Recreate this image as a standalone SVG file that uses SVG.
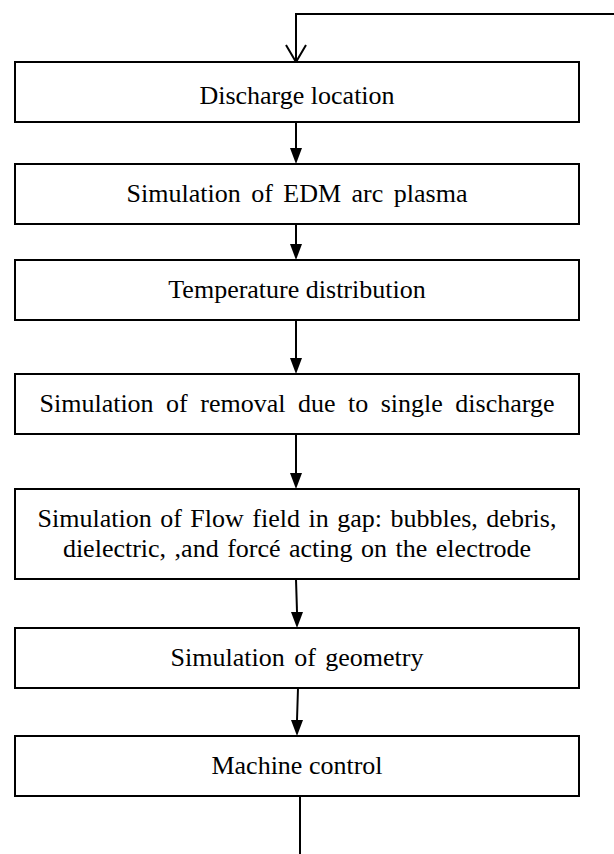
<svg xmlns="http://www.w3.org/2000/svg" width="614" height="854" viewBox="0 0 614 854">
<style>
.box{fill:#fff;stroke:#000;stroke-width:2}
.t{font-family:"Liberation Serif","Times New Roman",serif;font-size:26px;fill:#000;text-anchor:middle}
.c{fill:none;stroke:#000;stroke-width:2}
</style>
<rect width="614" height="854" fill="#fff"/>
<g id="connectors">
<path class="c" d="M614,14 H296 V62"/>
<path class="c" d="M286,45 L296,62 L306,45"/>
<line class="c" x1="296" y1="122" x2="296" y2="148"/>
<path d="M290,148 L302,148 L296,164 Z"/>
<line class="c" x1="296" y1="224" x2="296" y2="244"/>
<path d="M290,244 L302,244 L296,260 Z"/>
<line class="c" x1="296" y1="320" x2="296" y2="358"/>
<path d="M290,358 L302,358 L296,374 Z"/>
<line class="c" x1="296" y1="434" x2="296" y2="473"/>
<path d="M290,473 L302,473 L296,489 Z"/>
<line class="c" x1="296" y1="579" x2="297" y2="612"/>
<path d="M291,612 L303,612 L297,628 Z"/>
<line class="c" x1="298" y1="688" x2="297" y2="720"/>
<path d="M291,720 L303,720 L297,736 Z"/>
<line class="c" x1="300" y1="796" x2="300" y2="854"/>
</g>
<g id="n1"><rect class="box" x="15" y="62" width="564" height="60"/><text class="t" x="297" y="104">Discharge location</text></g>
<g id="n2"><rect class="box" x="15" y="164" width="564" height="60"/><text class="t" x="297" y="202" word-spacing="4">Simulation of EDM arc plasma</text></g>
<g id="n3"><rect class="box" x="15" y="260" width="564" height="60"/><text class="t" x="297" y="298">Temperature distribution</text></g>
<g id="n4"><rect class="box" x="15" y="374" width="564" height="60"/><text class="t" x="297" y="412" word-spacing="6">Simulation of removal due to single discharge</text></g>
<g id="n5"><rect class="box" x="15" y="489" width="564" height="90"/><text class="t" x="297" y="527" word-spacing="2">Simulation of Flow field in gap: bubbles, debris,</text><text class="t" x="297" y="557" word-spacing="2">dielectric, ,and forcé acting on the electrode</text></g>
<g id="n6"><rect class="box" x="15" y="628" width="564" height="60"/><text class="t" x="297" y="666" word-spacing="3">Simulation of geometry</text></g>
<g id="n7"><rect class="box" x="15" y="736" width="564" height="60"/><text class="t" x="297" y="774">Machine control</text></g>
</svg>
